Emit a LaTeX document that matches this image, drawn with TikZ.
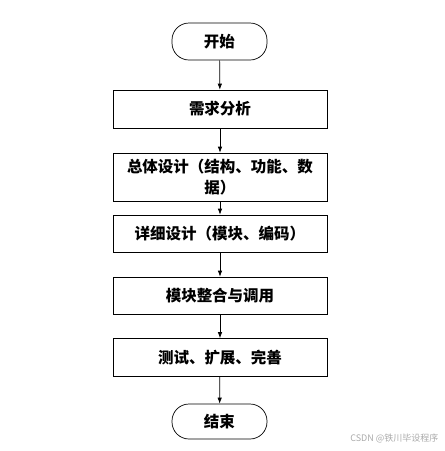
\documentclass[tikz,border=0pt]{standalone}
\usepackage{fontspec}
\usepackage{xcolor}
\usepackage{tikz}
\usetikzlibrary{arrows}
\usetikzlibrary{arrows.meta}
\setmainfont{Noto Sans CJK SC}
\newfontfamily\cjk{Noto Sans CJK SC}
\definecolor{mark}{RGB}{170,170,170}

\begin{document}
\begin{tikzpicture}[x=1pt,y=-1pt]
    \tikzstyle{terminal}=[draw,line width=0.7pt,rounded corners=17pt,minimum width=95pt,minimum height=37pt,font=\cjk\bfseries\fontsize{15.5}{18}\selectfont]
    \tikzstyle{process}=[draw,line width=0.7pt,minimum width=214pt,minimum height=38pt,align=center,font=\cjk\bfseries\fontsize{15.5}{21}\selectfont]
    \tikzstyle{flow}=[line width=0.7pt,-{Latex[length=6pt,width=4.5pt]}]
    \useasboundingbox (0,0) rectangle (445,451);
    % Draw the steps
    \node[terminal] (start) at (219.5,41.5) {开始};
    \node[process] (need) at (220,109) {需求分析};
    \node[process,minimum height=48pt,inner sep=1pt] (overall) at (220,177) {总体设计（结构、功能、数\\据）};
    \node[process,minimum height=37pt] (detail) at (220,233.5) {详细设计（模块、编码）};
    \node[process,minimum height=37pt] (merge) at (220,295.5) {模块整合与调用};
    \node[process] (test) at (220,357.5) {测试、扩展、完善};
    \node[terminal,minimum height=35pt] (stop) at (219.5,421.5) {结束};
    % Draw the arrows
    \draw[flow] (start) -- (need);
    \draw[flow] (need) -- (overall);
    \draw[flow] (overall) -- (detail);
    \draw[flow] (detail) -- (merge);
    \draw[flow] (merge) -- (test);
    \draw[flow] (test) -- (stop);
    \node[text=mark,font=\cjk\fontsize{9}{11}\selectfont,anchor=east] (wm) at (442,438) {CSDN @铁川毕设程序};
\end{tikzpicture}
\end{document}
